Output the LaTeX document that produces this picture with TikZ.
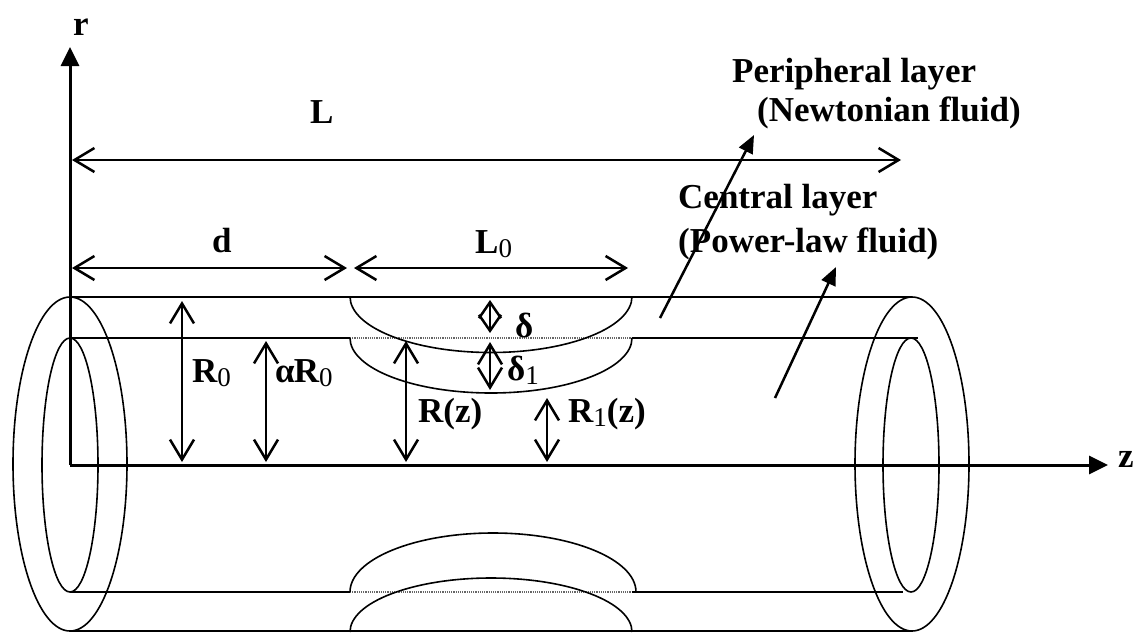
\documentclass[tikz,border=0pt]{standalone}
\usepackage{fontspec}
\setmainfont{Liberation Serif}
\usetikzlibrary{arrows.meta}
\newcommand\mysub[1]{\raisebox{-4pt}{\mdseries\fontsize{27}{27}\selectfont #1}}
\begin{document}
\begin{tikzpicture}[x=1pt,y=-1pt,
  lbl/.style={anchor=base west,inner sep=0pt,font=\bfseries\fontsize{35}{40}\selectfont},
  axis/.style={line width=3pt,-{Triangle[length=19pt,width=18pt]}},
  dim/.style={line width=2.5pt,{Straight Barb[length=20pt,width=24pt,line width=2.5pt]}-{Straight Barb[length=20pt,width=24pt,line width=2.5pt]}},
  smalldim/.style={line width=2.5pt,{Straight Barb[length=16pt,width=22pt,line width=2.5pt]}-{Straight Barb[length=16pt,width=22pt,line width=2.5pt]}},
  pointer/.style={line width=2.5pt,-{Triangle[length=18pt,width=15pt]}},
  tube/.style={line width=2pt},
  ring/.style={line width=1.6pt},
  dots/.style={line width=1.2pt,densely dotted,black!60}]
\useasboundingbox (0,0) rectangle (1137,632);

% coordinates
\coordinate (O) at (70,465);
\coordinate (rtip) at (70,47);
\coordinate (ztip) at (1108,465);

% tube lines
\coordinate (ot1) at (70,296.5);  \coordinate (ot2) at (912,296.5);
\coordinate (it1) at (70,338);    \coordinate (sA) at (350,338);
\coordinate (sB) at (632,338);    \coordinate (it2) at (918,338);
\coordinate (ib1) at (70,592);    \coordinate (bA) at (350,592);
\coordinate (bB) at (632,592);    \coordinate (ib2) at (903,592);
\coordinate (ob1) at (70,631);    \coordinate (ob2) at (912,631);

\draw[tube] (ot1) -- (ot2);
\draw[tube] (it1) -- (sA);
\draw[dots] (sA) -- (sB);
\draw[tube] (sB) -- (it2);
\draw[tube] (ib1) -- (bA);
\draw[dots] (bA) -- (bB);
\draw[tube] (bB) -- (ib2);
\draw[tube] (ob1) -- (ob2);

% stenosis arcs
\draw[ring] (350,296.5) arc[start angle=180,end angle=0,x radius=141,y radius=56];
\draw[ring] (350,338) arc[start angle=180,end angle=0,x radius=141,y radius=55];
\draw[ring] (350,592) arc[start angle=180,end angle=360,x radius=143,y radius=59];
\draw[ring] (350,632) arc[start angle=180,end angle=360,x radius=141,y radius=54];

% end rings
\draw[ring] (70,464) ellipse[x radius=57,y radius=167];
\draw[ring] (70,465) ellipse[x radius=28,y radius=127];
\draw[ring] (912,464) ellipse[x radius=57,y radius=167];
\draw[ring] (911,465) ellipse[x radius=28,y radius=127];

% axes
\draw[axis] (O) -- (rtip);
\draw[axis] (O) -- (ztip);

% horizontal dimensions
\coordinate (La) at (72,160);  \coordinate (Lb) at (901,160);
\coordinate (da) at (72,268);  \coordinate (db) at (347,268);
\coordinate (L0a) at (354,268); \coordinate (L0b) at (628,268);
\draw[dim] (La) -- (Lb);
\draw[dim] (da) -- (db);
\draw[dim] (L0a) -- (L0b);

% vertical dimensions
\coordinate (R0a) at (182,301); \coordinate (R0b) at (182,462);
\coordinate (aRa) at (266,341); \coordinate (aRb) at (266,462);
\coordinate (Rza) at (406,341); \coordinate (Rzb) at (406,462);
\coordinate (R1a) at (547,398); \coordinate (R1b) at (547,462);
\coordinate (dea) at (490,300); \coordinate (deb) at (490,333);
\coordinate (d1a) at (490,342); \coordinate (d1b) at (490,390);
\draw[dim] (R0a) -- (R0b);
\draw[dim] (aRa) -- (aRb);
\draw[dim] (Rza) -- (Rzb);
\draw[dim] (R1a) -- (R1b);
\draw[smalldim] (dea) -- (deb);
\draw[dim] (d1a) -- (d1b);

% labels
\node[lbl] (rl) at (73,35) {r};
\node[lbl] (zl) at (1118,467) {z};
\node[lbl] (Ll) at (310,123) {L};
\node[lbl] (dl) at (212,252) {d};
\node[lbl] (L0l) at (475,253) {L\mysub{0}};
\node[lbl] (R0l) at (192,382) {R\mysub{0}};
\node[lbl] (aRl) at (275,382) {α\kern-1ptR\mysub{0}};
\node[lbl] (del) at (515,337) {δ};
\node[lbl] (d1l) at (507,380) {δ\mysub{1}};
\node[lbl] (Rzl) at (418,422) {R(z)};
\node[lbl] (R1l) at (568,422) {R\mysub{1}(z)};
\node[lbl] (pl1) at (732,82) {Peripheral layer};
\node[lbl] (pl2) at (757,121) {(Newtonian fluid)};
\node[lbl] (cl1) at (678,208) {Central layer};
\node[lbl] (cl2) at (678,252) {(Power-law fluid)};

% pointers
\coordinate (pa) at (660,318); \coordinate (pb) at (754,135);
\coordinate (ca) at (775,398); \coordinate (cb) at (836,267);
\draw[pointer] (pa) -- (pb);
\draw[pointer] (ca) -- (cb);
\end{tikzpicture}
\end{document}
